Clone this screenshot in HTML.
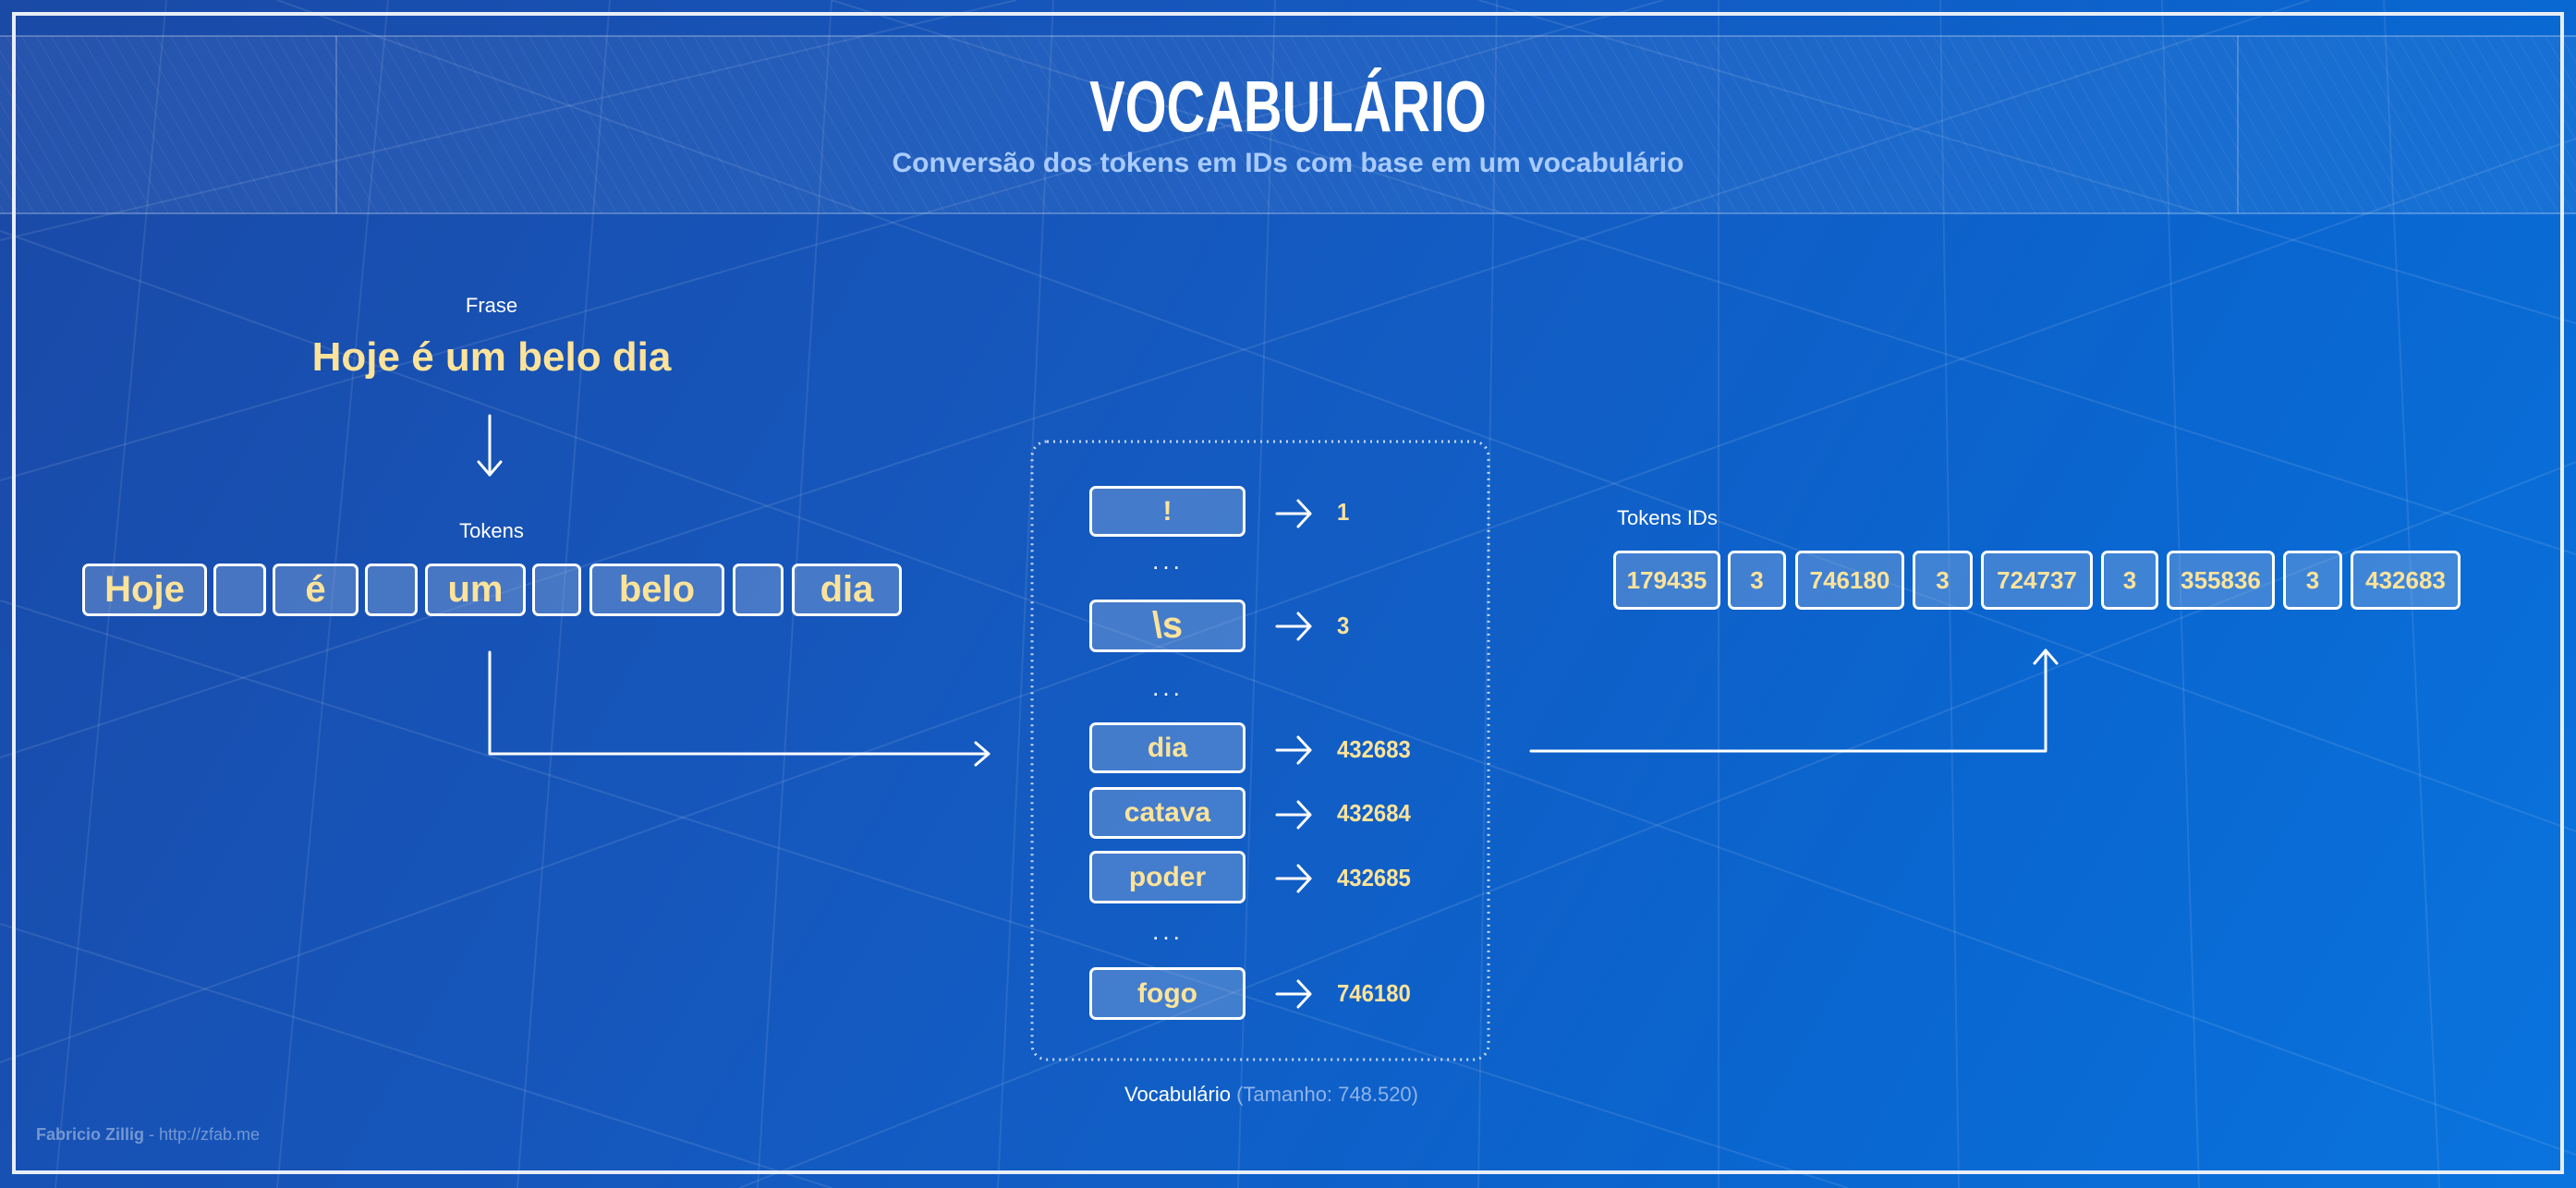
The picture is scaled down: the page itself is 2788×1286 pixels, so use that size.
<!DOCTYPE html>
<html><head><meta charset="utf-8"><style>
*{margin:0;padding:0;box-sizing:border-box}
body{width:2788px;height:1286px;overflow:hidden;position:relative;font-family:"Liberation Sans",sans-serif;
background:linear-gradient(120deg,#1a49a6 0%,#1558be 40%,#0a66d0 75%,#0a74de 100%);}
.abs{position:absolute}
.box{position:absolute;border:3px solid #fff;border-radius:7px;background:rgba(150,180,220,0.38);color:#fde39a;font-weight:bold;display:flex;align-items:center;justify-content:center;}
.lbl{position:absolute;color:#fff;font-size:22px;transform:translateX(-50%);white-space:nowrap}
.num{position:absolute;color:#fde39a;font-weight:bold;font-size:26px;transform:scaleX(0.92);transform-origin:left}
.dots{position:absolute;color:#fff;font-size:26px;letter-spacing:4px;transform:translateX(-50%)}
</style></head><body>
<svg class="abs" style="left:0;top:0" width="2788" height="1286">
<defs>
<pattern id="h" width="14" height="14" patternUnits="userSpaceOnUse" patternTransform="rotate(-30)">
<line x1="0" y1="0" x2="0" y2="14" stroke="rgba(255,255,255,0.07)" stroke-width="2"/></pattern>
</defs>
<g stroke="rgba(255,255,255,0.1)" stroke-width="2">
<line x1="0" y1="250" x2="2788" y2="1250"/><line x1="0" y1="650" x2="2000" y2="1286"/><line x1="300" y1="0" x2="2788" y2="900"/>
<line x1="900" y1="0" x2="2788" y2="600"/><line x1="1600" y1="0" x2="2788" y2="350"/><line x1="0" y1="1000" x2="900" y2="1286"/>
<line x1="2788" y1="150" x2="0" y2="1150"/><line x1="2788" y1="500" x2="800" y2="1286"/><line x1="2500" y1="0" x2="0" y2="820"/>
<line x1="1800" y1="0" x2="0" y2="520"/><line x1="1100" y1="0" x2="0" y2="260"/>
</g>
<g stroke="rgba(255,255,255,0.09)" stroke-width="2">
<line x1="180" y1="0" x2="60" y2="1286"/><line x1="420" y1="0" x2="300" y2="1286"/><line x1="660" y1="0" x2="560" y2="1286"/>
<line x1="900" y1="0" x2="820" y2="1286"/><line x1="1140" y1="0" x2="1080" y2="1286"/><line x1="1380" y1="0" x2="1340" y2="1286"/>
<line x1="1620" y1="0" x2="1600" y2="1286"/><line x1="1860" y1="0" x2="1860" y2="1286"/><line x1="2100" y1="0" x2="2120" y2="1286"/>
<line x1="2340" y1="0" x2="2380" y2="1286"/><line x1="2580" y1="0" x2="2640" y2="1286"/>
</g>
<rect x="0" y="39" width="2788" height="192" fill="rgba(255,255,255,0.06)"/>
<rect x="0" y="39" width="2788" height="192" fill="url(#h)"/>
<line x1="0" y1="39" x2="2788" y2="39" stroke="rgba(255,255,255,0.25)" stroke-width="2"/>
<line x1="0" y1="231" x2="2788" y2="231" stroke="rgba(255,255,255,0.25)" stroke-width="2"/>
<line x1="364" y1="39" x2="364" y2="231" stroke="rgba(255,255,255,0.2)" stroke-width="2"/>
<line x1="2422" y1="39" x2="2422" y2="231" stroke="rgba(255,255,255,0.2)" stroke-width="2"/>
<rect x="15" y="15" width="2758" height="1254" fill="none" stroke="#e8eef8" stroke-width="4"/>
<g stroke="#fff" stroke-width="3" fill="none" stroke-linecap="round" stroke-linejoin="round">
<line x1="530" y1="450" x2="530" y2="514"/><polyline points="518,500 530,514 542,500"/>
<polyline points="530,706 530,816 1070,816"/><polyline points="1056,804 1070,816 1056,828"/>
<polyline points="1657,813 2214,813 2214,704"/><polyline points="2202,718 2214,704 2226,718"/>
</g>
<rect x="1117" y="478" width="494" height="669" rx="16" fill="none" stroke="rgba(255,255,255,0.75)" stroke-width="3" stroke-dasharray="2 5"/>
<g stroke="#fff" stroke-width="3" fill="none" stroke-linecap="round" stroke-linejoin="round">
<g id="a"><line x1="1382" y1="556" x2="1418" y2="556"/><polyline points="1405,542 1418,556 1405,570"/></g>
<use href="#a" y="122"/><use href="#a" y="256"/><use href="#a" y="326"/><use href="#a" y="395"/><use href="#a" y="520"/>
</g>
</svg>
<div class="abs" style="left:0;width:2788px;top:70px;text-align:center;color:#fff;font-weight:bold;font-size:78px;transform:scaleX(0.74)">VOCABULÁRIO</div>
<div class="abs" style="left:0;width:2788px;top:160px;text-align:center;color:#a9cbff;font-weight:bold;font-size:30px">Conversão dos tokens em IDs com base em um vocabulário</div>
<div class="lbl" style="left:532px;top:318px">Frase</div>
<div class="abs" style="left:532px;top:362px;transform:translateX(-50%);color:#fde39a;font-weight:bold;font-size:44px;white-space:nowrap">Hoje é um belo dia</div>
<div class="lbl" style="left:532px;top:562px">Tokens</div>
<div class="box" style="left:89px;top:610px;width:135px;height:57px;font-size:40px">Hoje</div>
<div class="box" style="left:231px;top:610px;width:57px;height:57px"></div>
<div class="box" style="left:295px;top:610px;width:93px;height:57px;font-size:40px">é</div>
<div class="box" style="left:395px;top:610px;width:57px;height:57px"></div>
<div class="box" style="left:460px;top:610px;width:109px;height:57px;font-size:40px">um</div>
<div class="box" style="left:576px;top:610px;width:53px;height:57px"></div>
<div class="box" style="left:638px;top:610px;width:146px;height:57px;font-size:40px">belo</div>
<div class="box" style="left:793px;top:610px;width:55px;height:57px"></div>
<div class="box" style="left:857px;top:610px;width:119px;height:57px;font-size:40px">dia</div>

<div class="box" style="left:1179px;top:526px;width:169px;height:55px;font-size:30px">!</div>
<div class="box" style="left:1179px;top:649px;width:169px;height:57px;font-size:40px">\s</div>
<div class="box" style="left:1179px;top:782px;width:169px;height:55px;font-size:30px">dia</div>
<div class="box" style="left:1179px;top:852px;width:169px;height:56px;font-size:30px">catava</div>
<div class="box" style="left:1179px;top:921px;width:169px;height:57px;font-size:30px">poder</div>
<div class="box" style="left:1179px;top:1047px;width:169px;height:57px;font-size:30px">fogo</div>
<div class="dots" style="left:1264px;top:592px">...</div>
<div class="dots" style="left:1264px;top:729px">...</div>
<div class="dots" style="left:1264px;top:993px">...</div>
<div class="num" style="left:1447px;top:539px">1</div>
<div class="num" style="left:1447px;top:662px">3</div>
<div class="num" style="left:1447px;top:796px">432683</div>
<div class="num" style="left:1447px;top:865px">432684</div>
<div class="num" style="left:1447px;top:935px">432685</div>
<div class="num" style="left:1447px;top:1060px">746180</div>
<div class="lbl" style="left:1376px;top:1172px">Vocabulário <span style="color:#8fb3e8">(Tamanho: 748.520)</span></div>

<div class="abs" style="left:1750px;top:548px;color:#fff;font-size:22px">Tokens IDs</div>
<div class="box" style="left:1746px;top:596px;width:116px;height:64px;font-size:26px">179435</div>
<div class="box" style="left:1870px;top:596px;width:63px;height:64px;font-size:26px">3</div>
<div class="box" style="left:1943px;top:596px;width:118px;height:64px;font-size:26px">746180</div>
<div class="box" style="left:2070px;top:596px;width:65px;height:64px;font-size:26px">3</div>
<div class="box" style="left:2144px;top:596px;width:121px;height:64px;font-size:26px">724737</div>
<div class="box" style="left:2274px;top:596px;width:62px;height:64px;font-size:26px">3</div>
<div class="box" style="left:2345px;top:596px;width:117px;height:64px;font-size:26px">355836</div>
<div class="box" style="left:2471px;top:596px;width:64px;height:64px;font-size:26px">3</div>
<div class="box" style="left:2544px;top:596px;width:119px;height:64px;font-size:26px">432683</div>

<div class="abs" style="left:39px;top:1218px;color:rgba(255,255,255,0.4);font-size:18px"><b>Fabricio Zillig</b> - http://zfab.me</div>
</body></html>
